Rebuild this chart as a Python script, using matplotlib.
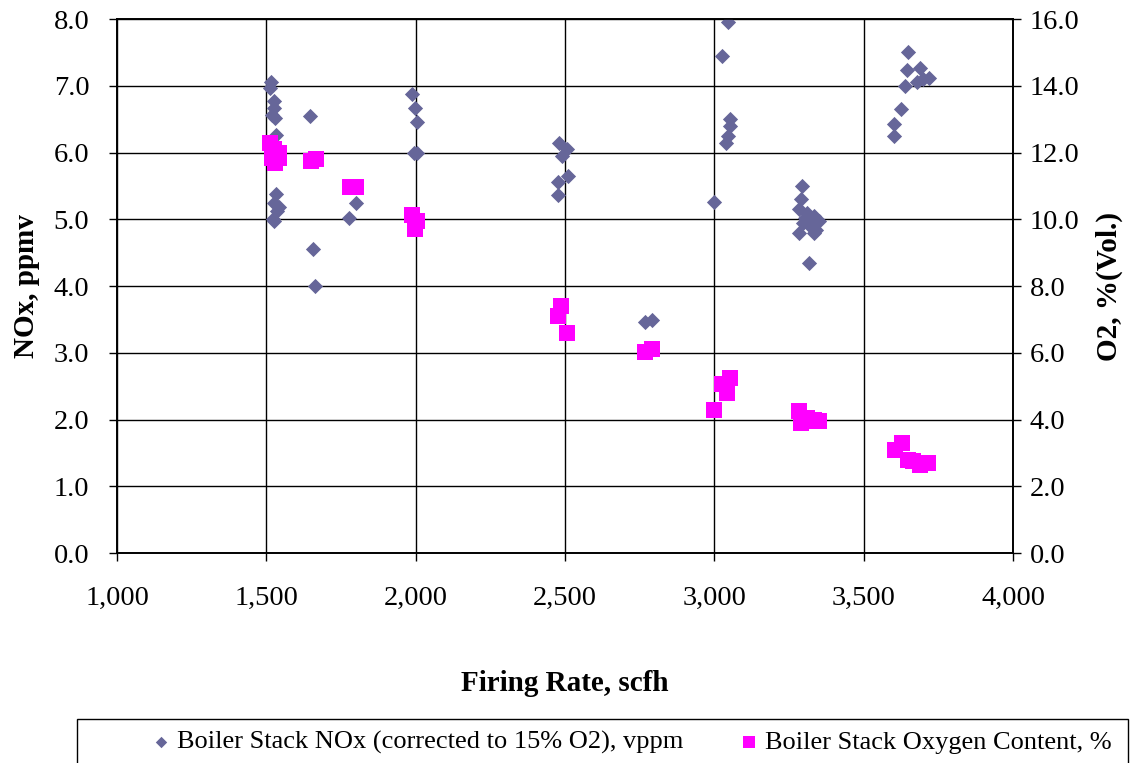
import matplotlib.pyplot as plt
from matplotlib.patches import Rectangle
from matplotlib.ticker import FuncFormatter, MultipleLocator

plt.rcParams['font.family'] = ['Liberation Serif', 'DejaVu Serif']

# boiler stack NOx (left axis, ppmv)
nox_rate = [1516, 1513, 1525, 1525, 1518, 1529, 1532, 1532, 1525, 1543, 1536, 1522, 1525,
            1646, 1657, 1663, 1775, 1799,
            1987, 1996, 2004, 1995, 2003,
            2481, 2508, 2489, 2510, 2478, 2475,
            2768, 2792,
            3045, 3025, 3051, 3053, 3044, 3040, 3000,
            3295, 3290, 3282, 3310, 3332, 3349, 3298, 3321, 3282, 3332, 3340, 3318, 3305,
            3650, 3645, 3687, 3639, 3678, 3700, 3717, 3625, 3602, 3600]
nox_ppm = [7.05, 6.97, 6.77, 6.67, 6.57, 6.52, 6.26, 5.38, 5.25, 5.19, 5.12, 5.0, 4.97,
           6.55, 4.55, 4.0, 5.02, 5.24,
           6.87, 6.67, 6.46, 6.0, 6.0,
           6.14, 6.06, 5.95, 5.65, 5.56, 5.36,
           3.46, 3.49,
           7.96, 7.44, 6.5, 6.4, 6.25, 6.15, 5.26,
           5.5, 5.3, 5.16, 5.1, 5.05, 4.97, 4.95, 4.9, 4.79, 4.79, 4.84, 4.35, 5.02,
           7.5, 7.24, 7.27, 6.99, 7.05, 7.1, 7.12, 6.66, 6.43, 6.25]

# boiler stack oxygen (right axis, %)
o2_rate = [1513, 1527, 1543, 1518, 1543, 1529,
           1650, 1665, 1780, 1800,
           1987, 2004, 1998,
           2486, 2478, 2506,
           2768, 2792,
           3051, 3025, 3041, 3000,
           3285, 3295, 3310, 3320, 3335, 3350, 3290,
           3605, 3628, 3650, 3690, 3715, 3665]
o2_pct = [12.3, 12.1, 12.0, 11.85, 11.85, 11.7,
          11.75, 11.8, 10.96, 10.96,
          10.14, 9.94, 9.7,
          7.4, 7.1, 6.6,
          6.03, 6.1,
          5.25, 5.05, 4.8, 4.28,
          4.25, 4.0, 4.05, 3.95, 4.0, 3.95, 3.9,
          3.1, 3.3, 2.8, 2.65, 2.7, 2.75]

fig = plt.figure(figsize=(11.32, 7.63), dpi=100)
ax = fig.add_axes([0.1034, 0.2752, 0.7915, 0.6998])
ax2 = ax.twinx()

ax.scatter(nox_rate, nox_ppm, marker='D', s=60, color='#666699', lw=0,
           label='Boiler Stack NOx (corrected to 15% O2), vppm', zorder=3)
ax2.scatter(o2_rate, o2_pct, marker='s', s=140, color='#FF00FF', lw=0,
            label='Boiler Stack Oxygen Content, %', zorder=3)

ax.set_xlim(1000, 4000)
ax.set_ylim(0, 8)
ax2.set_ylim(0, 16)
ax.xaxis.set_major_locator(MultipleLocator(500))
ax.yaxis.set_major_locator(MultipleLocator(1))
ax2.yaxis.set_major_locator(MultipleLocator(2))
ax.xaxis.set_major_formatter(FuncFormatter(lambda v, p: f'{v:,.0f}'))
ax.yaxis.set_major_formatter(FuncFormatter(lambda v, p: f'{v:.1f}'))
ax2.yaxis.set_major_formatter(FuncFormatter(lambda v, p: f'{v:.1f}'))

ax.grid(True, color='black', lw=1.0)
ax.set_axisbelow(True)
for a in (ax, ax2):
    a.tick_params(labelsize=20.5, direction='out', length=6, width=1, pad=6)
    for s in a.spines.values():
        s.set_color('black')
        s.set_linewidth(1.2)
ax.tick_params(axis='x', pad=18)
ax.tick_params(axis='y', pad=14)

ax.set_xlabel('Firing Rate, scfh', fontsize=21, fontweight='bold', labelpad=42)
ax.set_ylabel('NOx, ppmv', fontsize=21, fontweight='bold', labelpad=10)
ax2.set_ylabel('O2, %(Vol.)', fontsize=21, fontweight='bold', labelpad=12)

# legend box spanning nearly the full width, entries centred inside
fig.patches.append(Rectangle((77 / 1132, -0.01), 1051 / 1132, 52 / 763,
                             transform=fig.transFigure, fill=False,
                             edgecolor='black', lw=1))
h1, l1 = ax.get_legend_handles_labels()
h2, l2 = ax2.get_legend_handles_labels()
fig.legend(h1 + h2, l1 + l2, loc='center', bbox_to_anchor=(0.5565, 21 / 763),
           ncol=2, fontsize=19, frameon=False,
           handletextpad=0.1, columnspacing=2.0, borderpad=0,
           markerscale=0.75, handlelength=1.0)

fig.savefig('out.png', dpi=100)
